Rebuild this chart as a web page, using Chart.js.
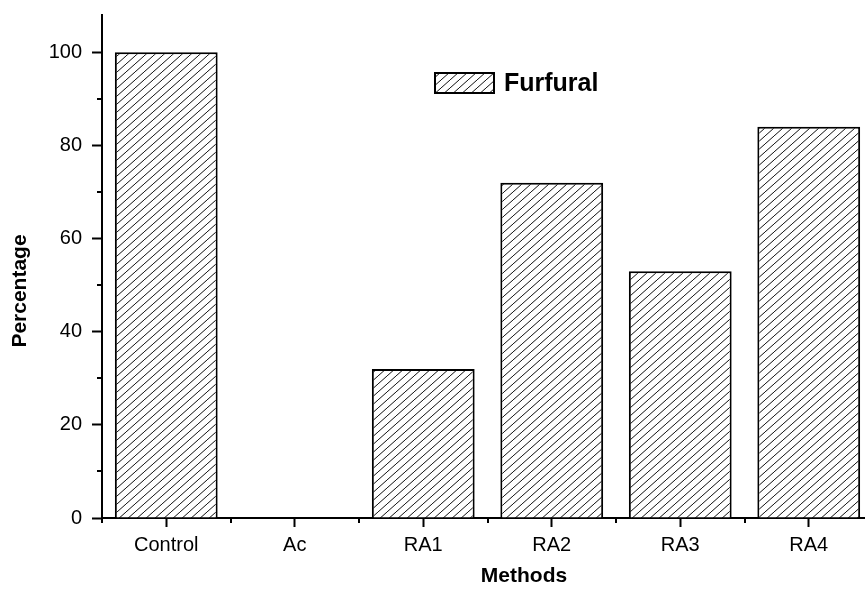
<!DOCTYPE html>
<html>
<head>
<meta charset="utf-8">
<script src="https://cdn.jsdelivr.net/npm/chart.js@4.4.1/dist/chart.umd.min.js"></script>
<style>
    html, body { margin: 0; padding: 0; background: #fff; }
    .wrap { width: 865px; height: 590px; overflow: hidden; position: relative; }
    #furfuralChart { display: block; }
</style>
</head>
<body>
<div class="wrap">
    <canvas id="furfuralChart" width="880" height="590"></canvas>
</div>
<script>
// categories and series
const methods = ['Control', 'Ac', 'RA1', 'RA2', 'RA3', 'RA4'];
const furfural = [100, 0, 32, 72, 53, 84];
const seriesLabel = 'Furfural';

// y axis range and ticks
const yMax = 108;
const yStep = 20;
const yMinorTicks = [10, 30, 50, 70, 90];

// axis titles
const xTitle = 'Methods';
const yTitle = 'Percentage';

const fontFamily = '"Liberation Sans", Arial, Helvetica, sans-serif';

//..diagonal hatch fill for the bars
function makeHatch() {
    const w = 9, h = 8;
    const tile = document.createElement('canvas');
    tile.width = w;
    tile.height = h;
    const c = tile.getContext('2d');
    c.fillStyle = '#fff';
    c.fillRect(0, 0, w, h);
    c.strokeStyle = '#111';
    c.lineWidth = 1;
    for (let k = -1; k <= 1; k++) {
        c.beginPath();
        c.moveTo(k * w, h);
        c.lineTo(k * w + w, 0);
        c.stroke();
    }
    return c.createPattern(tile, 'repeat');
}

const hatch = makeHatch();

//..short minor ticks on both axes
const minorTicks = {
    id: 'minorTicks',
    afterDraw(chart) {
        const { ctx, scales: { x, y } } = chart;
        ctx.save();
        ctx.strokeStyle = '#000';
        ctx.lineWidth = 2;
        // y minor ticks
        yMinorTicks.forEach(v => {
            const py = Math.round(y.getPixelForValue(v));
            ctx.beginPath();
            ctx.moveTo(x.left, py);
            ctx.lineTo(x.left - 5, py);
            ctx.stroke();
        });
        // x minor ticks on category boundaries
        const step = x.getPixelForValue(1) - x.getPixelForValue(0);
        for (let i = 0; i <= methods.length; i++) {
            const px = Math.round(x.getPixelForValue(0) - step / 2 + i * step);
            ctx.beginPath();
            ctx.moveTo(px, y.bottom);
            ctx.lineTo(px, y.bottom + 5);
            ctx.stroke();
        }
        ctx.restore();
    }
};

//..axis titles, placed off-centre like the original plot
const axisTitles = {
    id: 'axisTitles',
    afterDraw(chart) {
        const { ctx, chartArea } = chart;
        ctx.save();
        ctx.fillStyle = '#000';
        ctx.font = 'bold 21px ' + fontFamily;
        ctx.textAlign = 'center';
        ctx.textBaseline = 'middle';
        ctx.fillText(xTitle, chartArea.left + 422, chartArea.bottom + 58);
        ctx.translate(20, chartArea.top + 276);
        ctx.rotate(-Math.PI / 2);
        ctx.fillText(yTitle, 0, 0);
        ctx.restore();
    }
};

//..legend box drawn inside the plot
const hatchLegend = {
    id: 'hatchLegend',
    afterDraw(chart) {
        const { ctx } = chart;
        const bx = 435, by = 73, bw = 59, bh = 20;
        ctx.save();
        ctx.fillStyle = hatch;
        ctx.fillRect(bx, by, bw, bh);
        ctx.strokeStyle = '#000';
        ctx.lineWidth = 2;
        ctx.strokeRect(bx, by, bw, bh);
        ctx.fillStyle = '#000';
        ctx.font = 'bold 25px ' + fontFamily;
        ctx.textBaseline = 'middle';
        ctx.textAlign = 'left';
        ctx.fillText(chart.data.datasets[0].label, bx + bw + 10, by + bh / 2 + 1);
        ctx.restore();
    }
};

new Chart(document.getElementById('furfuralChart'), {
    type: 'bar',
    data: {
        labels: methods,
        datasets: [{
            label: seriesLabel,
            data: furfural,
            backgroundColor: hatch,
            borderColor: '#000',
            borderWidth: 2,
            barPercentage: 0.8,
            categoryPercentage: 1.0
        }]
    },
    plugins: [minorTicks, axisTitles, hatchLegend],
    options: {
        responsive: false,
        animation: false,
        layout: {
            padding: { top: 15, right: 7, left: 0, bottom: 0 }
        },
        scales: {
            x: {
                grid: {
                    display: true,
                    offset: false,
                    drawOnChartArea: false,
                    drawTicks: true,
                    tickLength: 9,
                    tickColor: '#000',
                    tickWidth: 2
                },
                border: { display: true, color: '#000', width: 2 },
                ticks: {
                    color: '#000',
                    padding: 6,
                    font: { family: fontFamily, size: 20 }
                },
                afterFit(scale) {
                    scale.height = 72;
                    scale.paddingLeft = 0;
                    scale.paddingRight = 0;
                }
            },
            y: {
                min: 0,
                max: yMax,
                grid: {
                    display: true,
                    drawOnChartArea: false,
                    drawTicks: true,
                    tickLength: 10,
                    tickColor: '#000',
                    tickWidth: 2
                },
                border: { display: true, color: '#000', width: 2 },
                ticks: {
                    stepSize: yStep,
                    includeBounds: false,
                    color: '#000',
                    padding: 10,
                    font: { family: fontFamily, size: 20 }
                },
                afterFit(scale) {
                    scale.width = 102;
                    scale.paddingTop = 0;
                    scale.paddingBottom = 0;
                }
            }
        },
        plugins: {
            legend: { display: false },
            tooltip: { enabled: false }
        }
    }
});
</script>
</body>
</html>
